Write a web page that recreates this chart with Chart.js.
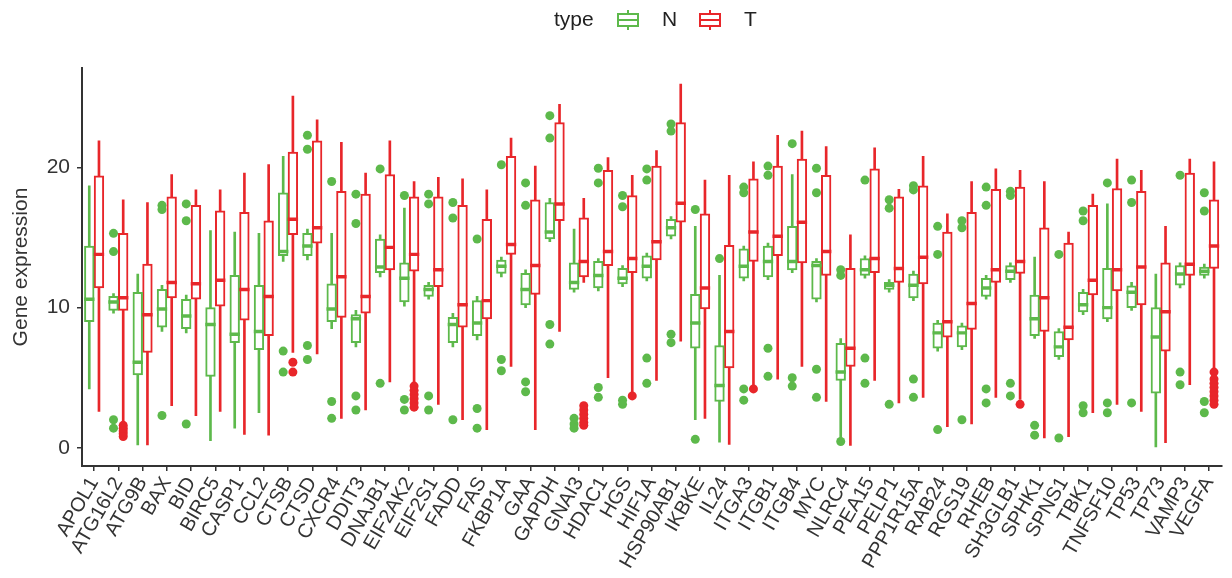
<!DOCTYPE html>
<html>
<head>
<meta charset="utf-8">
<script src="https://cdn.jsdelivr.net/npm/chart.js@4.4.1/dist/chart.umd.min.js"></script>
<style>
  html, body { margin: 0; padding: 0; background: #fff; }
  #wrap { width: 1232px; height: 578px; }
</style>
</head>
<body>
<div id="wrap"><canvas id="chart-box" width="1232" height="578"></canvas></div>
<script>
var genes = ['APOL1', 'ATG16L2', 'ATG9B', 'BAX', 'BID', 'BIRC5', 'CASP1', 'CCL2', 'CTSB', 'CTSD',
  'CXCR4', 'DDIT3', 'DNAJB1', 'EIF2AK2', 'EIF2S1', 'FADD', 'FAS', 'FKBP1A', 'GAA', 'GAPDH',
  'GNAI3', 'HDAC1', 'HGS', 'HIF1A', 'HSP90AB1', 'IKBKE', 'IL24', 'ITGA3', 'ITGB1', 'ITGB4',
  'MYC', 'NLRC4', 'PEA15', 'PELP1', 'PPP1R15A', 'RAB24', 'RGS19', 'RHEB', 'SH3GLB1', 'SPHK1',
  'SPNS1', 'TBK1', 'TNFSF10', 'TP53', 'TP73', 'VAMP3', 'VEGFA'];

// normal (N) samples: whisker low, Q1, median, Q3, whisker high
var nMin = [4.2, 9.6, 0.2, 8.3, 8.2, 0.5, 1.4, 2.5, 13.3, 13.4,
  8.5, 7.2, 12.2, 10.1, 10.6, 7.2, 7.7, 12.2, 10.0, 14.7,
  11.1, 11.2, 11.5, 11.9, 14.9, 2.0, 0.4, 11.9, 12.0, 12.5,
  10.4, 0.6, 12.1, 11.1, 10.5, 6.9, 7.0, 10.6, 11.8, 7.8,
  6.3, 9.5, 9.0, 9.8, 0.0, 11.4, 12.1];
var nQ1 = [9.0, 9.8, 5.2, 8.6, 8.5, 5.1, 7.5, 7.0, 13.7, 13.7,
  9.0, 7.5, 12.5, 10.4, 10.8, 7.5, 8.0, 12.45, 10.2, 14.9,
  11.3, 11.4, 11.7, 12.1, 15.1, 7.1, 3.3, 12.1, 12.2, 12.7,
  10.6, 4.8, 12.3, 11.3, 10.7, 7.1, 7.2, 10.8, 12.0, 8.0,
  6.5, 9.7, 9.2, 10.0, 3.9, 11.6, 12.3];
var nMed = [10.6, 10.4, 6.1, 9.9, 9.4, 8.8, 8.1, 8.3, 14.0, 14.4,
  9.9, 9.2, 12.9, 12.1, 11.3, 8.8, 8.9, 12.95, 11.3, 15.4,
  11.8, 12.3, 12.1, 12.95, 15.7, 8.9, 4.45, 12.95, 13.3, 13.3,
  13.0, 5.4, 12.7, 11.6, 11.6, 8.2, 8.2, 11.4, 12.6, 9.2,
  7.2, 10.2, 10.0, 11.1, 7.9, 12.4, 12.6];
var nQ3 = [14.4, 10.8, 11.1, 11.3, 10.6, 10.0, 12.3, 11.6, 18.2, 15.3,
  11.7, 9.5, 14.9, 13.2, 11.6, 9.3, 10.5, 13.4, 12.45, 17.5,
  13.2, 13.3, 12.8, 13.7, 16.3, 10.95, 7.3, 14.2, 14.4, 15.8,
  13.3, 7.45, 13.5, 11.8, 12.4, 8.9, 8.7, 12.1, 13.0, 10.9,
  8.3, 11.1, 12.8, 11.55, 10.0, 13.0, 12.9];
var nMax = [18.7, 11.0, 12.4, 11.6, 10.9, 15.5, 15.4, 15.3, 20.8, 15.6,
  15.3, 9.8, 15.2, 17.1, 11.8, 9.6, 10.8, 13.6, 12.7, 17.8,
  15.6, 13.5, 13.0, 13.9, 16.5, 15.8, 12.3, 14.4, 14.6, 19.5,
  13.5, 7.8, 13.7, 12.0, 12.6, 9.1, 8.9, 12.3, 13.2, 13.6,
  8.5, 11.3, 17.4, 11.8, 12.4, 13.2, 13.1];
var nOut = [[], [15.3, 14.0, 2.0, 1.4], [], [17.3, 17.0, 2.3], [17.4, 16.2, 1.7], [], [], [], [6.9, 5.4], [22.3, 21.3, 7.3, 6.3],
  [19.0, 3.3, 2.1], [18.1, 16.0, 3.7, 2.7], [19.9, 4.6], [18.0, 3.45, 2.7], [18.1, 17.4, 3.7, 2.7], [17.5, 16.4, 2.0], [14.9, 2.8, 1.4], [20.2, 6.3, 5.5], [18.9, 17.3, 4.7, 4.0], [23.7, 22.1, 8.8, 7.4],
  [2.1, 1.7, 1.4], [19.95, 18.9, 4.3, 3.6], [18.0, 17.2, 3.4, 3.1], [19.9, 19.1, 6.4, 4.6], [23.1, 22.6, 8.1, 7.5], [17.0, 0.6], [13.5], [18.6, 18.2, 4.2, 3.4], [20.1, 19.45, 7.1, 5.1], [21.7, 5.0, 4.4],
  [19.95, 18.2, 5.6, 3.6], [12.7, 12.3, 0.45], [19.1, 6.4, 4.6], [17.7, 17.1, 3.1], [18.7, 18.4, 4.9, 3.6], [15.8, 13.8, 1.3], [16.2, 15.7, 2.0], [18.6, 17.3, 4.2, 3.2], [18.3, 18.0, 4.6, 3.7], [1.6, 0.9],
  [13.8, 0.7], [16.9, 16.2, 3.0, 2.5], [18.9, 3.2, 2.5], [19.1, 17.5, 3.2], [], [19.45, 5.4, 4.5], [18.2, 16.9, 3.3, 2.5]];

// tumour (T) samples
var tMin = [2.6, 1.9, 0.2, 3.0, 2.3, 2.6, 0.95, 0.9, 6.8, 6.7,
  2.1, 2.7, 4.7, 4.7, 3.1, 2.0, 1.3, 5.8, 1.3, 8.3,
  11.8, 5.0, 4.0, 4.8, 7.6, 2.1, 0.24, 4.4, 4.9, 5.8,
  3.3, 0.16, 4.8, 3.2, 3.6, 1.5, 1.7, 3.6, 3.45, 0.7,
  0.8, 2.5, 3.1, 2.6, 0.36, 4.5, 5.7];
var tQ1 = [11.4, 9.8, 6.8, 10.7, 10.6, 10.1, 9.1, 8.0, 15.2, 14.6,
  9.3, 9.6, 12.7, 12.6, 11.5, 8.6, 9.2, 13.8, 10.95, 16.2,
  12.2, 13.0, 12.5, 13.4, 16.1, 9.9, 5.7, 13.3, 13.7, 13.2,
  12.3, 5.8, 12.5, 11.8, 11.7, 7.9, 8.45, 11.8, 12.45, 8.3,
  7.7, 10.9, 11.2, 10.2, 6.9, 12.3, 12.8];
var tMed = [13.8, 10.7, 9.5, 11.8, 11.7, 11.95, 11.3, 10.8, 16.3, 15.7,
  12.2, 10.8, 14.3, 13.8, 12.7, 10.2, 10.5, 14.5, 13.0, 17.4,
  13.3, 14.0, 13.5, 14.7, 17.45, 11.4, 8.3, 15.4, 15.1, 16.1,
  14.0, 7.1, 13.5, 12.8, 13.6, 9.0, 10.3, 12.7, 13.3, 10.7,
  8.6, 11.95, 12.7, 12.9, 9.7, 13.1, 14.4];
var tQ3 = [19.4, 15.3, 13.1, 17.9, 17.3, 16.9, 16.8, 16.2, 21.1, 21.9,
  18.3, 18.1, 19.5, 17.9, 17.9, 17.3, 16.3, 20.8, 17.7, 23.2,
  16.4, 19.8, 18.0, 20.1, 23.2, 16.7, 14.45, 19.2, 20.1, 20.6,
  19.45, 12.8, 19.9, 17.9, 18.7, 15.4, 16.8, 18.45, 18.6, 15.7,
  14.6, 17.3, 18.5, 18.3, 13.2, 19.6, 17.7];
var tMax = [21.9, 17.7, 17.5, 19.5, 18.4, 18.4, 19.6, 20.2, 25.1, 23.4,
  21.8, 19.6, 21.9, 19.0, 19.3, 19.2, 18.4, 22.1, 20.1, 24.5,
  17.8, 20.7, 19.45, 21.2, 25.95, 19.1, 19.45, 20.4, 22.3, 22.6,
  21.5, 15.2, 21.4, 18.45, 20.8, 16.7, 19.0, 19.9, 19.8, 19.0,
  15.4, 18.1, 20.6, 19.8, 15.8, 20.6, 20.4];
var tOut = [[], [1.6, 1.4, 1.2, 1.0, 0.8], [], [], [], [], [], [], [6.1, 5.4], [],
  [], [], [], [4.4, 4.1, 3.8, 3.5, 3.2, 2.9], [], [], [], [], [], [],
  [3.0, 2.7, 2.4, 2.1, 1.8, 1.6], [], [3.7], [], [], [], [], [4.2], [], [],
  [], [], [], [], [], [], [], [], [3.1], [],
  [], [], [], [], [], [], [5.4, 4.9, 4.6, 4.3, 4.0, 3.7, 3.4, 3.1]];

var yTicks = [0, 10, 20];
var groups = ['N', 'T'];

var green = '#5DB94B';
var red = '#E8262A';
var textColor = '#333333';
var axisColor = '#333333';
var fontFamily = "'Liberation Sans', Arial, Helvetica, sans-serif";

// boxes sit 0.2 of a category left (N) and right (T) of the gene tick
function ranges(lo, hi, shift) {
  return lo.map(function (v, i) {
    return { x: i + shift, y: [v, hi[i]] };
  });
}

function medianBand(med, shift) {
  return med.map(function (v, i) {
    return { x: i + shift, y: [v - 0.1, v + 0.1] };
  });
}

function outlierPoints(list, shift) {
  var pts = [];
  list.forEach(function (vals, i) {
    vals.forEach(function (v) {
      pts.push({ x: i + shift, y: v });
    });
  });
  return pts;
}

function boxDatasets(name, color, lo, q1, med, q3, hi, out, shift) {
  return [
    {
      label: name + ' whisker',
      data: ranges(lo, hi, shift),
      backgroundColor: color,
      borderWidth: 0,
      maxBarThickness: 2,
      order: 3,
    },
    {
      label: name,
      data: ranges(q1, q3, shift),
      backgroundColor: '#ffffff',
      borderColor: color,
      borderWidth: 2,
      borderSkipped: false,
      order: 2,
    },
    {
      label: name + ' median',
      data: medianBand(med, shift),
      backgroundColor: color,
      borderWidth: 0,
      order: 1,
    },
    {
      type: 'scatter',
      label: name + ' outliers',
      data: outlierPoints(out, shift),
      backgroundColor: color,
      borderWidth: 0,
      pointRadius: 4.5,
      order: 0,
    },
  ];
}

// legend drawn like the ggplot key: title, then a small box glyph per group
var legendPlugin = {
  id: 'typeLegend',
  afterDraw: function (chart) {
    var ctx = chart.ctx;
    var cy = 20;
    ctx.save();
    ctx.font = '21px ' + fontFamily;
    ctx.fillStyle = '#222';
    ctx.textBaseline = 'middle';
    ctx.textAlign = 'left';
    ctx.fillText('type', 554, cy);
    var items = [
      { x: 617, color: green, text: groups[0], tx: 662 },
      { x: 699, color: red, text: groups[1], tx: 744 },
    ];
    items.forEach(function (it) {
      ctx.strokeStyle = it.color;
      ctx.lineWidth = 2;
      ctx.beginPath();
      ctx.moveTo(it.x + 11, cy - 10);
      ctx.lineTo(it.x + 11, cy - 6);
      ctx.moveTo(it.x + 11, cy + 6);
      ctx.lineTo(it.x + 11, cy + 10);
      ctx.stroke();
      ctx.strokeRect(it.x + 1, cy - 6, 20, 12);
      ctx.beginPath();
      ctx.moveTo(it.x + 1, cy);
      ctx.lineTo(it.x + 21, cy);
      ctx.stroke();
      ctx.fillStyle = '#222';
      ctx.fillText(it.text, it.tx, cy);
    });
    ctx.restore();
  },
};

function init() {
  Chart.defaults.font.family = fontFamily;
  var datasets = []
    .concat(boxDatasets(groups[0], green, nMin, nQ1, nMed, nQ3, nMax, nOut, -0.2))
    .concat(boxDatasets(groups[1], red, tMin, tQ1, tMed, tQ3, tMax, tOut, 0.2));
  datasets.forEach(function (d) {
    d.xAxisID = 'xo';
  });

  new Chart(document.getElementById('chart-box'), {
    type: 'bar',
    data: { labels: genes, datasets: datasets },
    plugins: [legendPlugin],
    options: {
      responsive: false,
      devicePixelRatio: 1,
      animation: false,
      events: [],
      layout: { padding: { top: 68, right: 5, left: 0, bottom: 0 } },
      datasets: {
        bar: { categoryPercentage: 1, barPercentage: 1, grouped: false },
      },
      plugins: {
        legend: { display: false },
        tooltip: { enabled: false },
      },
      scales: {
        x: {
          type: 'category',
          offset: true,
          grid: {
            offset: false,
            drawOnChartArea: false,
            drawTicks: true,
            tickLength: 5,
            color: axisColor,
            lineWidth: 1.5,
          },
          border: { display: true, color: axisColor, width: 2 },
          ticks: {
            autoSkip: false,
            minRotation: 60,
            maxRotation: 60,
            padding: 2,
            color: textColor,
            font: { size: 20 },
          },
          afterFit: function (scale) {
            scale.height = 112;
          },
        },
        xo: {
          type: 'linear',
          axis: 'x',
          display: false,
          offset: false,
          min: -0.5,
          max: genes.length - 0.5,
        },
        y: {
          stacked: false,
          min: -1.3,
          max: 27.1,
          grid: {
            drawOnChartArea: false,
            drawTicks: true,
            tickLength: 5,
            color: axisColor,
            lineWidth: 1.5,
          },
          border: { display: true, color: axisColor, width: 2 },
          ticks: {
            padding: 7,
            color: textColor,
            font: { size: 21 },
          },
          afterBuildTicks: function (scale) {
            scale.ticks = yTicks.map(function (v) {
              return { value: v };
            });
          },
          title: {
            display: true,
            text: 'Gene expression',
            color: textColor,
            font: { size: 21 },
            padding: { top: 9, bottom: 0 },
          },
          afterFit: function (scale) {
            scale.width = 82;
          },
        },
      },
    },
  });
}

if (document.readyState === 'loading') {
  document.addEventListener('DOMContentLoaded', init);
} else {
  init();
}
</script>
</body>
</html>
